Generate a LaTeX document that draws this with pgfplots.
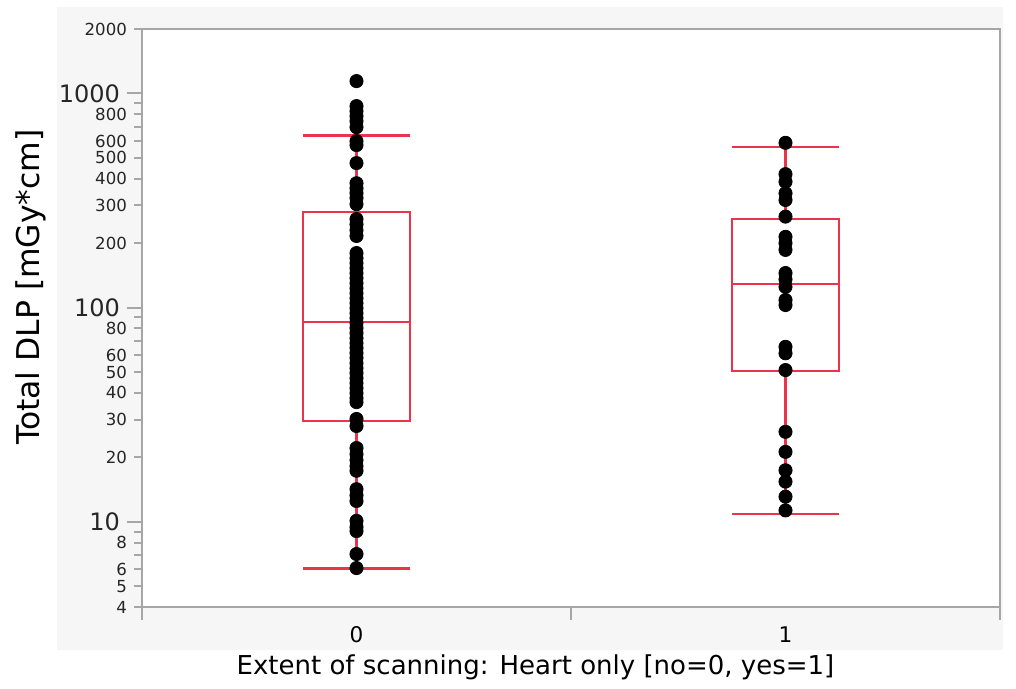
\documentclass[border=0pt]{standalone}
\usepackage{pgfplots}
\pgfplotsset{compat=1.18}
\usepackage{fontspec}
\setmainfont{DejaVu Sans}
\definecolor{jred}{RGB}{234,52,76}
\definecolor{agray}{RGB}{166,166,166}
\definecolor{bggray}{RGB}{246,246,246}
\begin{document}
\begin{tikzpicture}
\path[use as bounding box, fill=white] (-71pt,-41pt) rectangle (437pt,303.5pt);
\fill[bggray] (-42.5pt,-21.5pt) rectangle (430.5pt,300pt);
\fill[white] (0,0) rectangle (429pt,289pt);
\begin{axis}[
  at={(0,0)}, anchor=south west,
  width=429pt, height=289pt, scale only axis,
  ymode=log, ymin=4, ymax=2000, xmin=-0.5, xmax=1.5,
  axis line style={agray, line width=1pt},
  tick align=outside,
  ytick pos=left, xtick pos=bottom,
  major tick length=4pt, minor tick length=4pt,
  tick style={agray, line width=1pt},
  ytick={4,5,6,8,20,30,40,50,60,80,200,300,400,500,600,800,2000},
  yticklabels={4,5,6,8,20,30,40,50,60,80,200,300,400,500,600,800,2000},
  minor ytick={7,9,70,90,700,900},
  extra y ticks={10,100,1000},
  extra y tick labels={10,100,1000},
  extra y tick style={major tick length=7.5pt, yticklabel style={font=\fontsize{12}{12}\selectfont}},
  yticklabel style={font=\fontsize{8.3}{8.3}\selectfont, text=black!85},
  xtick={0,1}, xticklabels={0,1},
  xtick style={draw=none},
  xticklabel style={font=\fontsize{10.8}{10.8}\selectfont, anchor=north, inner sep=0pt, yshift=-5.5pt},
  xlabel={Extent of scanning: Heart only [no=0, yes=1]},
  xlabel style={at={(rel axis cs:0.4586,-0.1176)}, anchor=base, inner sep=0pt, font=\fontsize{13}{13}\selectfont},
  ylabel={Total DLP [mGy*cm]},
  ylabel style={at={(rel axis cs:-0.1189,0.5536)}, anchor=base, inner sep=0pt, font=\fontsize{15.7}{15.7}\selectfont},
  clip=false,
]
\draw[agray, line width=1pt] (axis cs:0.5,4) -- ([yshift=-6.5pt]axis cs:0.5,4);
\draw[agray, line width=1pt] (axis cs:-0.5,4) -- ([yshift=-6.5pt]axis cs:-0.5,4);
\draw[agray, line width=1pt] (axis cs:1.5,4) -- ([yshift=-6.5pt]axis cs:1.5,4);
\addplot[only marks, mark=*, mark size=3.3pt, black] coordinates {
(0,1142) (0,873) (0,827) (0,784) (0,743) (0,696) (0,599) (0,574) (0,473)
(0,381) (0,361) (0,343) (0,325) (0,304) (0,259) (0,245) (0,230) (0,216)
(0,179.8) (0,170.4) (0,161.4) (0,153.0) (0,145.0) (0,137.4) (0,130.2) (0,123.4)
(0,116.9) (0,110.8) (0,105.0) (0,99.5) (0,94.3) (0,89.4) (0,84.7) (0,80.3)
(0,76.1) (0,72.1) (0,68.3) (0,64.8) (0,61.4) (0,58.2) (0,55.1) (0,52.2)
(0,49.5) (0,46.9) (0,44.4) (0,42.1) (0,39.9) (0,37.8) (0,36.2)
(0,30.2) (0,28.0) (0,22.1) (0,20.7) (0,19.4) (0,18.2) (0,17.3)
(0,14.2) (0,13.3) (0,12.5) (0,10.1) (0,9.45) (0,9.05) (0,7.07) (0,6.08)
};
\addplot[only marks, mark=*, mark size=3.3pt, black] coordinates {
(1,588) (1,420) (1,387) (1,342) (1,318) (1,266) (1,214) (1,200) (1,186)
(1,145) (1,135.5) (1,125) (1,108.5) (1,102.8) (1,65.6) (1,61.2) (1,51.1)
(1,26.3) (1,21.2) (1,17.4) (1,15.4) (1,13.1) (1,11.3)
};
% group 0 box
\addplot[jred, line width=1pt, line cap=rect] coordinates {(-0.125,29.6) (0.125,29.6) (0.125,281) (-0.125,281) (-0.125,29.6)};
\addplot[jred, line width=1pt] coordinates {(-0.125,85.4) (0.125,85.4)};
\addplot[jred, line width=1.3pt] coordinates {(0,281) (0,637)};
\addplot[jred, line width=1.3pt] coordinates {(0,29.6) (0,6.04)};
\addplot[jred, line width=1.2pt] coordinates {(-0.125,637) (0.125,637)};
\addplot[jred, line width=1.2pt] coordinates {(-0.125,6.04) (0.125,6.04)};
% group 1 box
\addplot[jred, line width=1pt, line cap=rect] coordinates {(0.875,50.7) (1.125,50.7) (1.125,259) (0.875,259) (0.875,50.7)};
\addplot[jred, line width=1pt] coordinates {(0.875,129) (1.125,129)};
\addplot[jred, line width=1.3pt] coordinates {(1,259) (1,564)};
\addplot[jred, line width=1.3pt] coordinates {(1,50.7) (1,10.9)};
\addplot[jred, line width=1.2pt] coordinates {(0.875,564) (1.125,564)};
\addplot[jred, line width=1.2pt] coordinates {(0.875,10.9) (1.125,10.9)};
\end{axis}
\end{tikzpicture}
\end{document}
